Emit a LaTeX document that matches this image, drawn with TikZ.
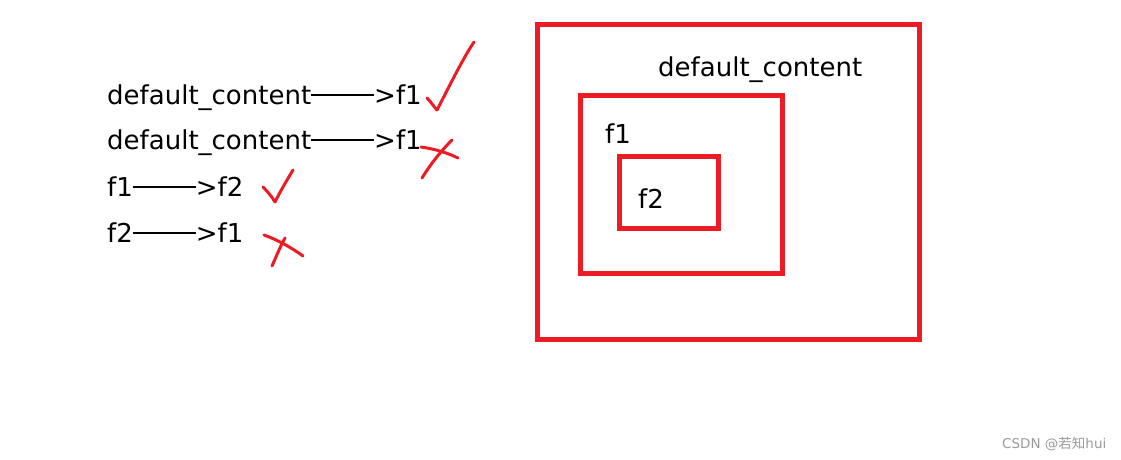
\documentclass[tikz,border=0pt]{standalone}
\usepackage{fontspec}
\setmainfont{DejaVu Sans}
\newfontfamily\cjkfont{Noto Sans CJK SC}
\definecolor{paintred}{HTML}{ED1C24}
\definecolor{wmgrey}{HTML}{9A9A9A}
\newcommand{\longarr}{\rule[8.5pt]{63pt}{1.8pt}>}
\begin{document}
\begin{tikzpicture}[x=1pt,y=-1pt,
  txt/.style={anchor=base west,inner sep=0pt,font=\fontsize{26}{30}\selectfont},
  redbox/.style={draw=paintred,line width=5pt},
  pen/.style={draw=paintred,line width=3pt,line cap=round,line join=round}]
\useasboundingbox (0,0) rectangle (1121,460);
% left statements
\node[txt] (s1) at (107,104) {default\_content\longarr f1};
\node[txt] (s2) at (107,149) {default\_content\longarr f1};
\node[txt] (s3) at (107,196) {f1\longarr f2};
\node[txt] (s4) at (107,242) {f2\longarr f1};
% check and cross marks
\draw[pen] (427,98) .. controls (432,103) and (434,107) .. (437,110) .. controls (450,85) and (462,60) .. (474,42);
\draw[pen] (421,147) .. controls (435,149) and (448,153) .. (458,158);
\draw[pen] (452,140) .. controls (440,152) and (430,165) .. (422,178);
\draw[pen] (263,187) .. controls (268,192) and (272,197) .. (275,202) .. controls (281,190) and (287,180) .. (293,170);
\draw[pen] (264,235) .. controls (278,240) and (292,248) .. (303,256);
\draw[pen] (285,238) .. controls (280,247) and (276,257) .. (272,266);
% nested boxes
\draw[redbox] (537.5,24.5) rectangle (919.5,339.5);
\draw[redbox] (580.5,95.5) rectangle (782.5,273.5);
\draw[redbox] (619.5,156.5) rectangle (718.5,228.5);
\node[txt] (dc) at (658,77) {default\_content};
\node[txt] (l1) at (605,143) {f1};
\node[txt] (l2) at (638,208) {f2};
% watermark
\node[anchor=base west,inner sep=0pt,text=wmgrey,font=\fontsize{13.5}{15}\selectfont] (wm) at (1002,448) {CSDN @{\cjkfont 若知}hui};
\end{tikzpicture}
\end{document}
